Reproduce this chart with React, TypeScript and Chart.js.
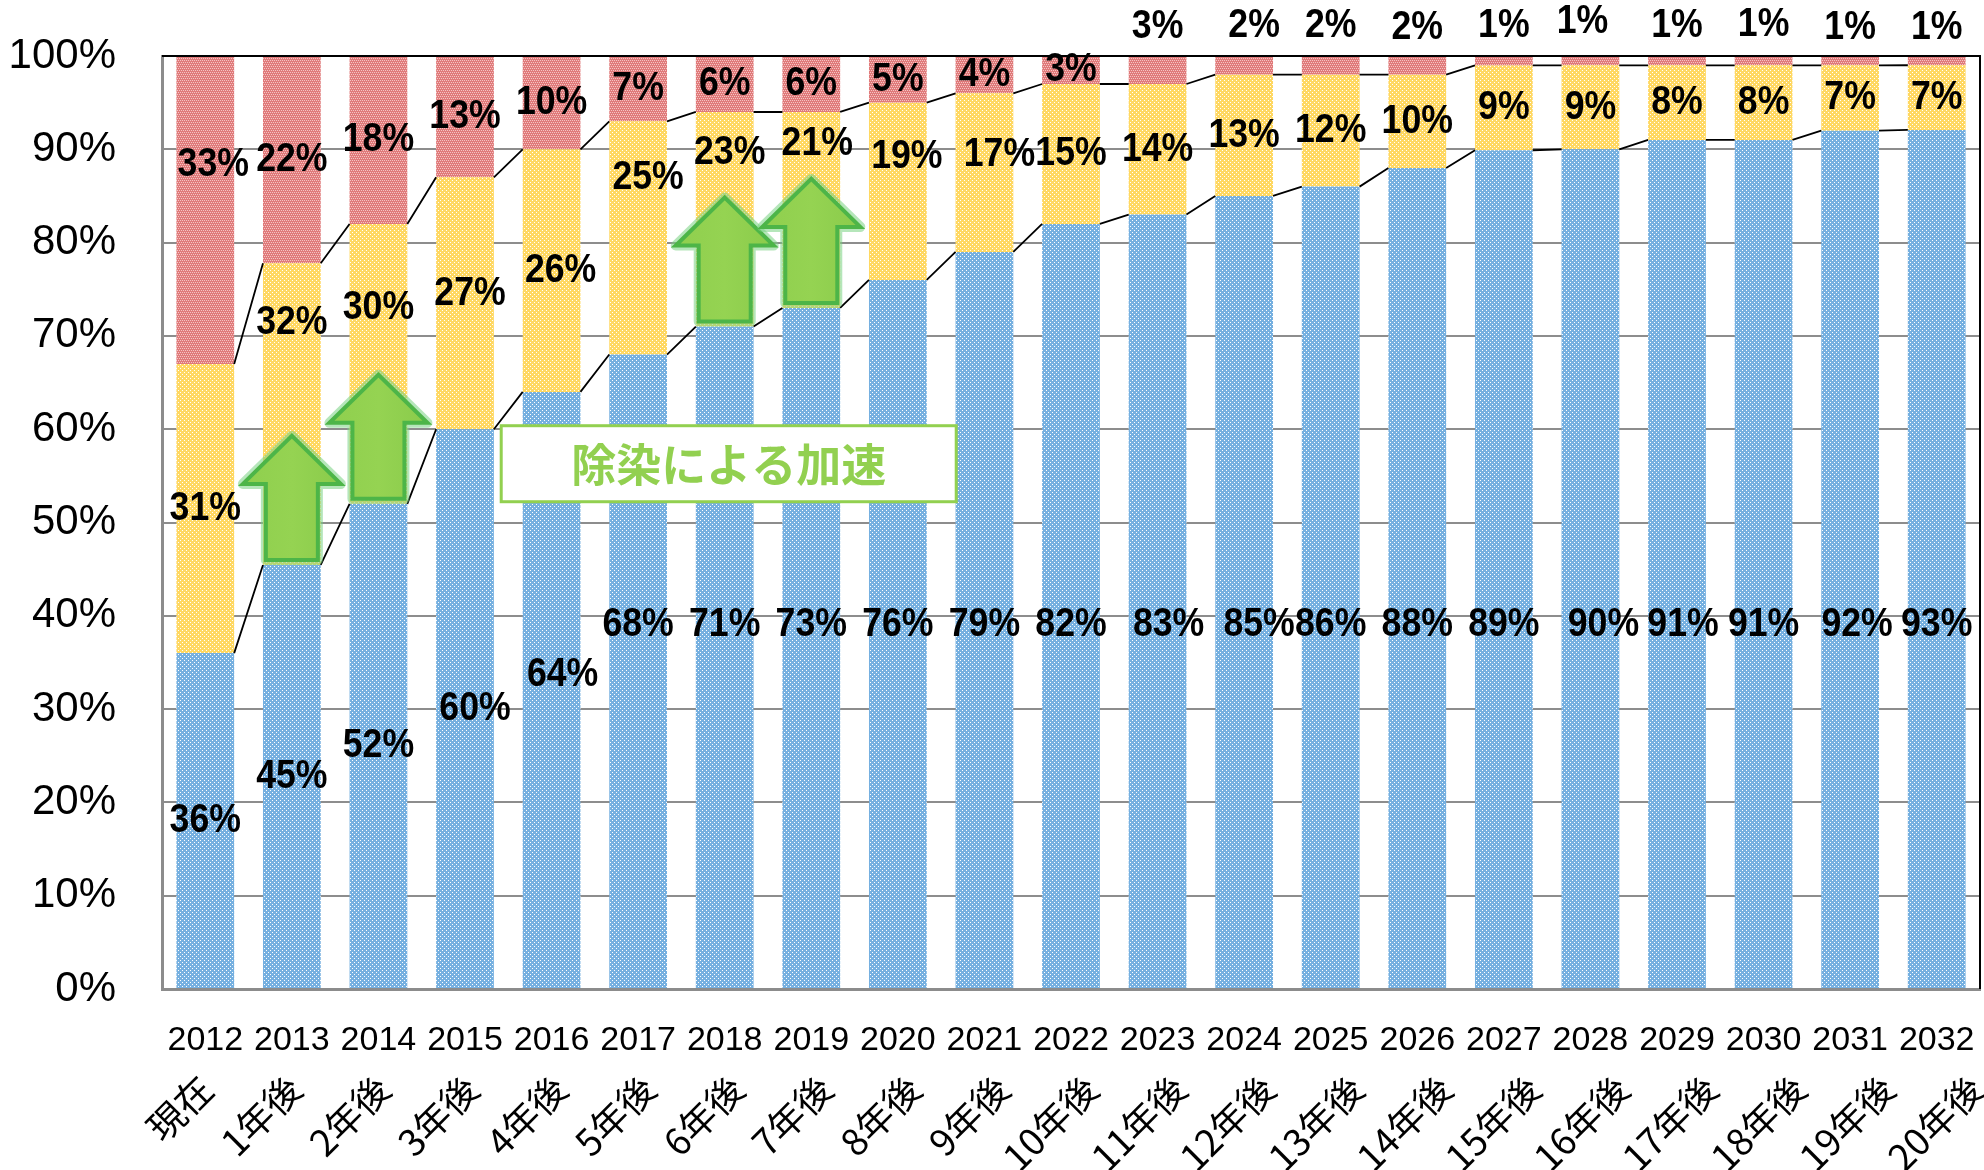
import React, { useEffect, useRef } from "react";
import { Chart, registerables } from "chart.js";

Chart.register(...registerables);

// ---------- data ----------
const years = ["2012", "2013", "2014", "2015", "2016", "2017", "2018", "2019", "2020", "2021", "2022", "2023", "2024", "2025", "2026", "2027", "2028", "2029", "2030", "2031", "2032"];
const elapsedLabels = ["現在", "1年後", "2年後", "3年後", "4年後", "5年後", "6年後", "7年後", "8年後", "9年後", "10年後", "11年後", "12年後", "13年後", "14年後", "15年後", "16年後", "17年後", "18年後", "19年後", "20年後"];
const blueShare = [36, 45, 52, 60, 64, 68, 71, 73, 76, 79, 82, 83, 85, 86, 88, 89, 90, 91, 91, 92, 93];
const yellowShare = [31, 32, 30, 27, 26, 25, 23, 21, 19, 17, 15, 14, 13, 12, 10, 9, 9, 8, 8, 7, 7];
const redShare = [33, 22, 18, 13, 10, 7, 6, 6, 5, 4, 3, 3, 2, 2, 2, 1, 1, 1, 1, 1, 1];
const yMin = 0;
const yMax = 100;
const yStep = 10;

// the rotated "n年後" row is spaced slightly wider than the bars in the reference
const elapsedAxisMin = -0.497;
const elapsedAxisMax = 20.045;

// annotations
const arrowYears = ["2013", "2014", "2018", "2019"];
const calloutText = "除染による加速";
const calloutYear = "2018";
const calloutLevel = 56.3;

// hand-moved data label positions (value-axis %), as in the reference
const blueLabelLevel = 39; // blue labels from 2017 on sit on one row
const blueLevelFrom = 5;
const blueLabelAt: Record<number, number> = { 4: 33.7 };
const yellowLabelAt: Record<number, number> = { 1: 71.4, 2: 73, 3: 74.5, 5: 87, 6: 89.6, 7: 90.6, 8: 89.2, 9: 89.4 };
const redLabelAt: Record<number, number> = { 0: 88.3, 11: 103.1, 12: 103.2, 13: 103.2, 14: 103, 15: 103.2, 16: 103.7, 17: 103.3, 18: 103.4, 19: 103, 20: 103 };
const blueNudge: Record<number, number> = { 3: 10, 4: 11, 11: 11, 12: 15, 16: 13, 17: 6, 19: 7 };
const yellowNudge: Record<number, number> = { 3: 5, 4: 9, 5: 10, 6: 5, 7: 6, 8: 9, 9: 15 };
const redNudge: Record<number, number> = { 0: 8, 12: 10, 16: -8 };

const LATIN = '"Liberation Sans", Arial, sans-serif';
const CJK = '"Noto Sans CJK JP", "Noto Sans CJK SC", sans-serif';

function makePattern(base: string, dot: string, dots: [number, number][]) {
  const c = document.createElement("canvas");
  c.width = 4;
  c.height = 4;
  const g = c.getContext("2d")!;
  g.fillStyle = base;
  g.fillRect(0, 0, 4, 4);
  g.fillStyle = dot;
  dots.forEach(([x, y]) => g.fillRect(x, y, 1, 1));
  return g.createPattern(c, "repeat")!;
}

function arrowPath(ctx: CanvasRenderingContext2D, cx: number, baseY: number) {
  const totalH = 124, headH = 48, headW = 98, shaftW = 52;
  const neck = baseY - totalH + headH;
  ctx.beginPath();
  ctx.moveTo(cx - shaftW / 2, baseY);
  ctx.lineTo(cx - shaftW / 2, neck);
  ctx.lineTo(cx - headW / 2, neck);
  ctx.lineTo(cx, baseY - totalH);
  ctx.lineTo(cx + headW / 2, neck);
  ctx.lineTo(cx + shaftW / 2, neck);
  ctx.lineTo(cx + shaftW / 2, baseY);
  ctx.closePath();
}

const overlayPlugin = {
  id: "overlay",
  afterDraw(chart: any) {
    const { ctx, chartArea, scales } = chart;
    const xs = scales.x;
    const ys = scales.y;
    ctx.save();

    // plot frame (top / right)
    ctx.strokeStyle = "#000";
    ctx.lineWidth = 2;
    ctx.beginPath();
    ctx.moveTo(chartArea.left, chartArea.top);
    ctx.lineTo(chartArea.right, chartArea.top);
    ctx.lineTo(chartArea.right, chartArea.bottom);
    ctx.stroke();

    // series lines
    ctx.strokeStyle = "#000";
    ctx.lineWidth = 1.8;
    for (const di of [0, 1]) {
      const meta = chart.getDatasetMeta(di);
      ctx.beginPath();
      for (let i = 0; i < meta.data.length - 1; i++) {
        const a = meta.data[i];
        const b = meta.data[i + 1];
        ctx.moveTo(a.x + a.width / 2, a.y);
        ctx.lineTo(b.x - b.width / 2, b.y);
      }
      ctx.stroke();
    }

    // arrows
    const blueMeta = chart.getDatasetMeta(0);
    arrowYears.forEach((yr) => {
      const idx = years.indexOf(yr);
      const el = blueMeta.data[idx];
      const baseY = el.y - 5;
      ctx.save();
      arrowPath(ctx, el.x, baseY);
      ctx.strokeStyle = "rgba(120,210,130,0.55)";
      ctx.lineWidth = 10;
      ctx.lineJoin = "round";
      ctx.stroke();
      const grad = ctx.createLinearGradient(el.x - 49, 0, el.x + 49, 0);
      grad.addColorStop(0, "#8FCF4E");
      grad.addColorStop(0.5, "#95D352");
      grad.addColorStop(1, "#8ACB4B");
      ctx.fillStyle = grad;
      ctx.fill();
      ctx.strokeStyle = "#4DB548";
      ctx.lineWidth = 4;
      ctx.lineJoin = "miter";
      ctx.stroke();
      ctx.restore();
    });

    // callout box
    {
      const cx = xs.getPixelForValue(years.indexOf(calloutYear)) + 4;
      const cy = ys.getPixelForValue(calloutLevel);
      const w = 455, h = 76;
      ctx.fillStyle = "#fff";
      ctx.fillRect(cx - w / 2, cy - h / 2, w, h);
      ctx.strokeStyle = "#92D050";
      ctx.lineWidth = 3;
      ctx.strokeRect(cx - w / 2, cy - h / 2, w, h);
      ctx.fillStyle = "#92D050";
      ctx.font = `bold 45px ${CJK}`;
      ctx.textAlign = "center";
      ctx.textBaseline = "middle";
      ctx.fillText(calloutText, cx, cy + 1);
    }

    // data labels
    const series = [
      { vals: blueShare, at: blueLabelAt, nudge: blueNudge },
      { vals: yellowShare, at: yellowLabelAt, nudge: yellowNudge },
      { vals: redShare, at: redLabelAt, nudge: redNudge },
    ];
    ctx.font = `bold 41px ${LATIN}`;
    ctx.fillStyle = "#000";
    ctx.textAlign = "center";
    ctx.textBaseline = "middle";
    series.forEach((s, si) => {
      const meta = chart.getDatasetMeta(si);
      s.vals.forEach((v, i) => {
        const el = meta.data[i];
        let py = (el.y + el.base) / 2;
        if (s.at[i] !== undefined) py = ys.getPixelForValue(s.at[i]);
        else if (si === 0 && i >= blueLevelFrom) py = ys.getPixelForValue(blueLabelLevel);
        const px = el.x + (s.nudge[i] || 0);
        ctx.save();
        ctx.translate(px, py);
        ctx.scale(0.87, 1);
        ctx.fillText(`${v}%`, 0, 0);
        ctx.restore();
      });
    });

    ctx.restore();
  },
};

export default function App() {
  const ref = useRef<HTMLCanvasElement | null>(null);

  useEffect(() => {
    if (!ref.current) return;
    const totals = years.map((_, i) => blueShare[i] + yellowShare[i] + redShare[i]);
    const norm = (arr: number[]) => arr.map((v, i) => (v / totals[i]) * 100);

    const bluePat = makePattern("#76B0E0", "#FFFFFF", [[0, 0], [2, 2]]);
    const yellowPat = makePattern("#FFD862", "#FFFFFF", [[0, 0], [2, 2]]);
    const redPat = makePattern("#E07A7A", "#F4C4C4", [[0, 0], [2, 0], [1, 2], [3, 2]]);

    const common = { stack: "s", barPercentage: 0.667, categoryPercentage: 1, borderWidth: 0 };

    const chart = new Chart(ref.current, {
      type: "bar",
      data: {
        labels: years,
        datasets: [
          { label: "blue", data: norm(blueShare), backgroundColor: bluePat as any, ...common },
          { label: "yellow", data: norm(yellowShare), backgroundColor: yellowPat as any, ...common },
          { label: "red", data: norm(redShare), backgroundColor: redPat as any, ...common },
        ],
      },
      options: {
        responsive: false,
        maintainAspectRatio: false,
        animation: false,
        devicePixelRatio: 1,
        layout: { padding: { top: 56, right: 4, left: 0, bottom: 0 } },
        plugins: { legend: { display: false }, tooltip: { enabled: false } },
        scales: {
          x: {
            type: "category",
            stacked: true,
            offset: true,
            weight: 0,
            grid: { display: false, drawTicks: false },
            border: { display: true, color: "#8C8C8C", width: 3 },
            ticks: {
              color: "#000",
              font: { family: LATIN, size: 34 },
              padding: 31,
              minRotation: 0,
              maxRotation: 0,
              autoSkip: false,
            },
            afterFit: (s: any) => {
              s.height = 70;
              s.paddingLeft = 0;
              s.paddingRight = 0;
            },
          },
          x2: {
            type: "linear",
            position: "bottom",
            bounds: "data",
            offset: false,
            min: elapsedAxisMin,
            max: elapsedAxisMax,
            weight: 1,
            grid: { display: false, drawTicks: false, offset: false },
            border: { display: false },
            afterDataLimits: (s: any) => {
              s.min = elapsedAxisMin;
              s.max = elapsedAxisMax;
            },
            afterBuildTicks: (s: any) => {
              s.ticks = elapsedLabels.map((_, i) => ({ value: i }));
            },
            ticks: {
              color: "#000",
              font: { family: CJK, size: 37, lineHeight: 1 },
              minRotation: 45,
              maxRotation: 45,
              autoSkip: false,
              padding: 10,
              callback: (v: any) => elapsedLabels[Math.round(Number(v))] ?? "",
            },
            afterFit: (s: any) => {
              s.height = 111;
              s.paddingLeft = 0;
              s.paddingRight = 0;
            },
          },
          y: {
            stacked: true,
            min: yMin,
            max: yMax,
            z: 1,
            grid: {
              color: "rgba(80,80,80,0.65)",
              lineWidth: 2,
              drawTicks: true,
              tickLength: 46,
              tickColor: "rgba(0,0,0,0)",
            },
            border: { color: "#8C8C8C", width: 3 },
            ticks: {
              stepSize: yStep,
              color: "#000",
              font: { family: LATIN, size: 42 },
              padding: 0,
              callback: (v: any) => `${v}%`,
            },
            afterFit: (s: any) => {
              s.width = 162;
            },
          },
        } as any,
      },
      plugins: [overlayPlugin],
    });
    return () => chart.destroy();
  }, []);

  return (
    <div style={{ position: "absolute", left: 0, top: 0, width: 1984, height: 1170, background: "#fff" }}>
      <canvas ref={ref} width={1984} height={1170} />
    </div>
  );
}
